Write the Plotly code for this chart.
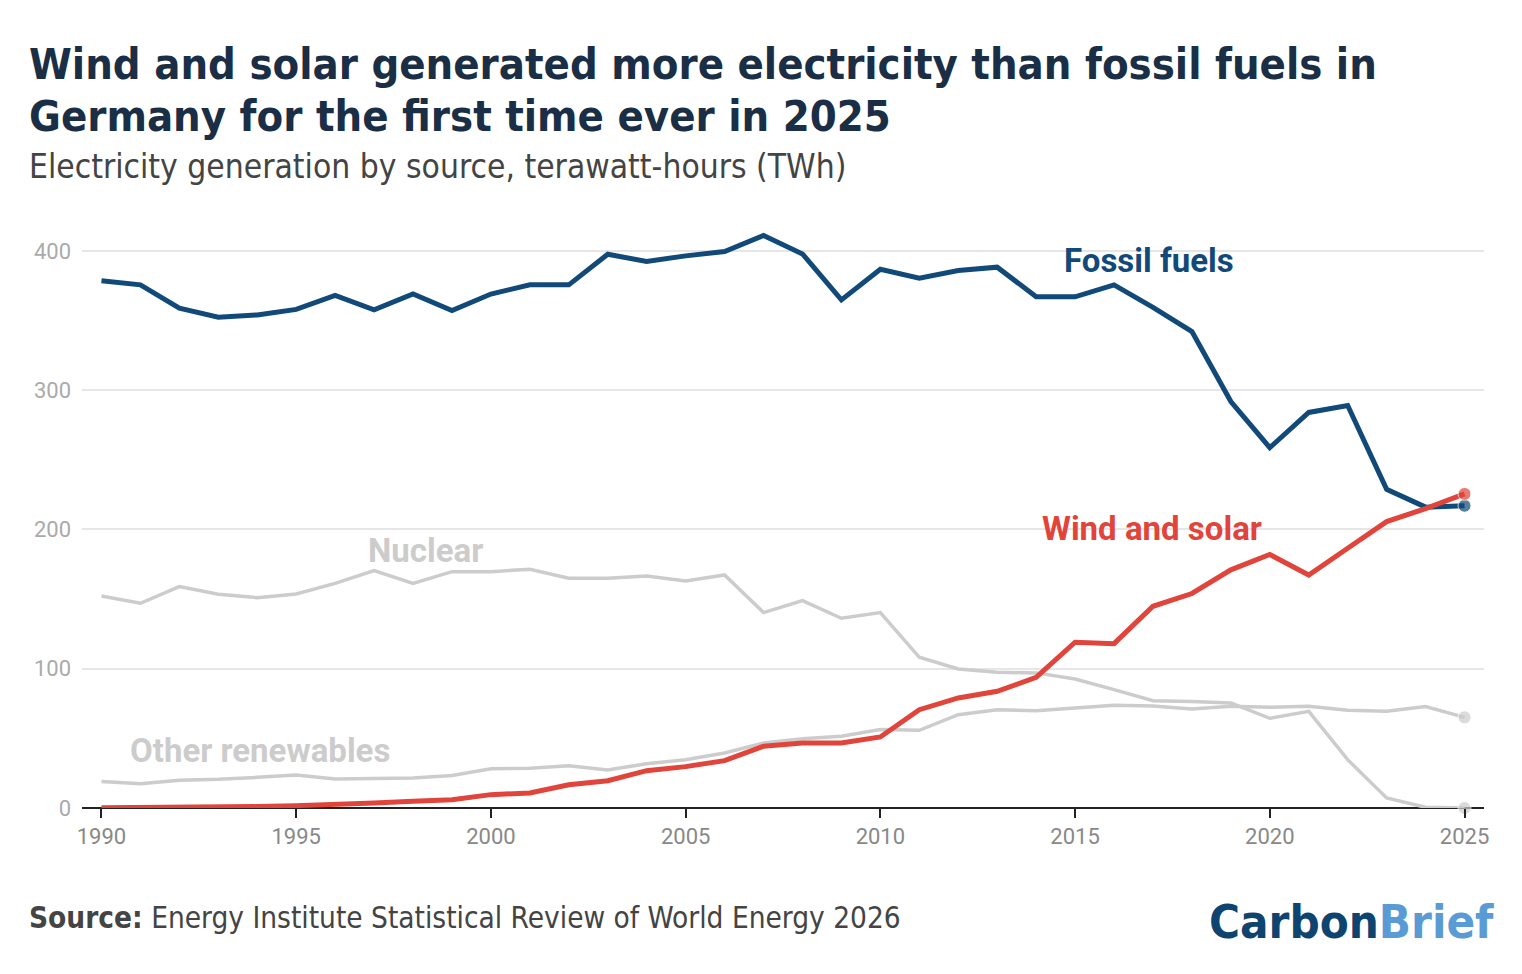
import plotly.graph_objects as go

years = list(range(1990, 2026))

fossil = [378.5, 375.6, 358.8, 352.4, 354.0, 358.0, 368.0, 357.6, 369.0, 357.1,
          369.0, 375.6, 375.6, 397.6, 392.3, 396.4, 399.5, 411.0, 397.8, 364.8,
          386.8, 380.4, 385.9, 388.3, 367.0, 367.0, 375.6, 359.5, 342.0, 291.8,
          258.7, 284.0, 289.0, 228.8, 216.0, 217.0]

wind_solar = [0.1, 0.2, 0.4, 0.7, 1.0, 1.7, 2.4, 3.6, 4.8, 6.0,
              9.6, 10.8, 16.7, 19.6, 26.8, 29.7, 34.0, 44.3, 46.7, 46.7,
              51.0, 70.6, 79.0, 83.8, 93.8, 119.0, 118.0, 144.8, 154.0, 171.0,
              182.0, 167.3, 186.5, 205.6, 215.0, 225.5]

nuclear = [152.2, 147.0, 159.0, 153.5, 151.0, 153.7, 161.3, 170.4, 161.3, 169.7,
           169.7, 171.4, 165.0, 165.0, 166.6, 163.0, 167.3, 140.3, 148.9, 136.2,
           140.3, 108.2, 99.8, 97.4, 97.0, 92.6, 85.0, 77.0, 76.4, 75.4,
           64.4, 69.4, 34.7, 7.2, 0.5, 0.0]

other_ren = [19.1, 17.5, 20.0, 20.6, 22.0, 23.7, 20.8, 21.0, 21.5, 23.4,
             28.2, 28.5, 30.4, 27.3, 31.8, 34.7, 39.5, 46.6, 49.8, 51.5,
             56.3, 55.8, 67.0, 70.6, 69.9, 71.8, 73.7, 73.2, 71.1, 73.0,
             72.3, 73.0, 70.1, 69.4, 72.8, 65.1]

x_ticks = [1990, 1995, 2000, 2005, 2010, 2015, 2020, 2025]
y_ticks = [0, 100, 200, 300, 400]

NAVY = "#114a78"
RED = "#e0443a"
GRAY = "#cccccc"

n = len(years)
sizes = [0] * (n - 1) + [13]

fig = go.Figure()
for vals, col, w in [(nuclear, GRAY, 3.5), (other_ren, GRAY, 3.5),
                     (fossil, NAVY, 5), (wind_solar, RED, 5)]:
    fig.add_trace(go.Scatter(
        x=years, y=vals, mode="lines+markers",
        line=dict(color=col, width=w),
        marker=dict(size=sizes, color=col),
        hoverinfo="x+y", showlegend=False, cliponaxis=False))

L, R, T, B = 81.5, 1484.5, 223, 808
W, H = 1522, 974


def px(xp):
    return (xp - L) / (R - L)


def py(yp):
    return (B - yp) / (B - T)


ann = []
TF = "DejaVu Sans Condensed, sans-serif"
ann.append(dict(text="<b>Wind and solar generated more electricity than fossil fuels in</b>",
                x=px(26), y=py(64), xref="paper", yref="paper", xanchor="left",
                yanchor="middle", showarrow=False,
                font=dict(family=TF, size=43.2, color="#1a2e45")))
ann.append(dict(text="<b>Germany for the first time ever in 2025</b>",
                x=px(26), y=py(116), xref="paper", yref="paper", xanchor="left",
                yanchor="middle", showarrow=False,
                font=dict(family=TF, size=43.2, color="#1a2e45")))
ann.append(dict(text="Electricity generation by source, terawatt-hours (TWh)",
                x=px(26), y=py(167), xref="paper", yref="paper", xanchor="left",
                yanchor="middle", showarrow=False,
                font=dict(family=TF, size=33.3, color="#444444")))
ann.append(dict(text="<b>Source:</b> Energy Institute Statistical Review of World Energy 2026",
                x=px(26), y=py(918), xref="paper", yref="paper", xanchor="left",
                yanchor="middle", showarrow=False,
                font=dict(family=TF, size=29.5, color="#444444")))
ann.append(dict(text="<b><span style='color:#0e4470'>Carbon</span><span style='color:#5b9bd5'>Brief</span></b>",
                x=px(1497), y=py(921), xref="paper", yref="paper", xanchor="right",
                yanchor="middle", showarrow=False,
                font=dict(family=TF, size=47, color="#0e4470")))

LF = "Roboto, sans-serif"
labels = [("Fossil fuels", 2016.9, 392.8, NAVY),
          ("Wind and solar", 2016.97, 201.0, RED),
          ("Nuclear", 1998.33, 184.6, GRAY),
          ("Other renewables", 1994.08, 41.0, GRAY)]
for txt, lx, ly, col in labels:
    ann.append(dict(text=f"<b>{txt}</b>", x=lx, y=ly, xref="x", yref="y",
                    xanchor="center", yanchor="middle", showarrow=False,
                    font=dict(family=LF, size=33, color=col)))

fig.update_layout(
    width=W, height=H,
    margin=dict(l=L, r=W - R, t=T, b=H - B),
    paper_bgcolor="white", plot_bgcolor="white",
    annotations=ann,
    xaxis=dict(range=[1989.5, 2025.5], tickvals=x_ticks,
               ticktext=[str(v) for v in x_ticks],
               showgrid=False, zeroline=False, showline=False,
               ticks="outside", ticklen=9, tickwidth=1.5, tickcolor="#222",
               tickfont=dict(family="Roboto, sans-serif", size=22, color="#888888")),
    yaxis=dict(range=[0, 420], tickvals=y_ticks,
               ticktext=[str(v) for v in y_ticks],
               showgrid=True, gridcolor="#e6e6e6", gridwidth=1.5,
               zeroline=True, zerolinecolor="#222222", zerolinewidth=2,
               showline=False, ticks="", ticklabelstandoff=10,
               tickfont=dict(family="Roboto, sans-serif", size=22, color="#aaaaaa")),
)

fig.write_html("out.html")
